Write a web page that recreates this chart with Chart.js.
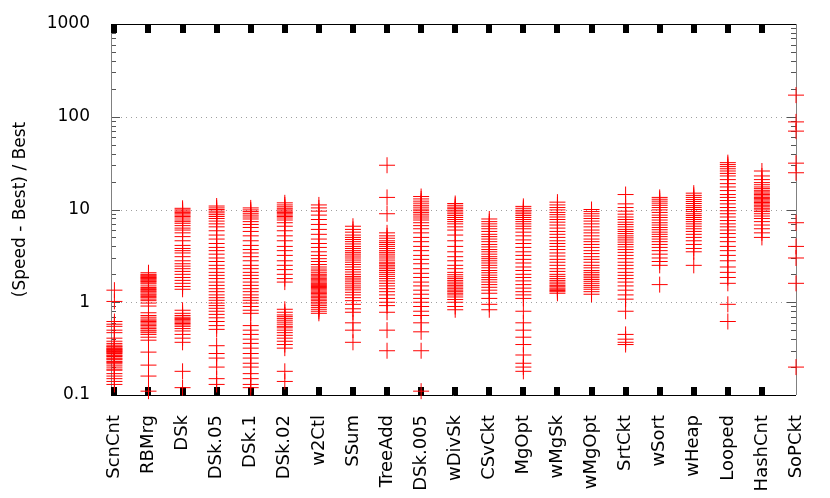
<!DOCTYPE html>
<html>
<head>
<meta charset="utf-8">
<script src="https://cdn.jsdelivr.net/npm/chart.js@4.4.1/dist/chart.umd.min.js"></script>
<style>
  html, body { margin: 0; padding: 0; background: #fff; }
  #wrap { width: 830px; height: 498px; }
</style>
</head>
<body>
<div id="wrap"><canvas id="speedChart" width="830" height="498"></canvas></div>
<script>
const categories = ['ScnCnt', 'RBMrg', 'DSk', 'DSk.05', 'DSk.1', 'DSk.02', 'w2Ctl', 'SSum', 'TreeAdd', 'DSk.005',
    'wDivSk', 'CSvCkt', 'MgOpt', 'wMgSk', 'wMgOpt', 'SrtCkt', 'wSort', 'wHeap', 'Looped', 'HashCnt', 'SoPCkt'];

const yTicks = [0.1, 1, 10, 100, 1000];
const yTickLabels = ['0.1', '1', '10', '100', '1000'];
const yTitle = '(Speed - Best) / Best';

// values, one list per benchmark
const scnCnt = [1.35, 1.02, 0.62, 0.58, 0.55, 0.5, 0.47, 0.41, 0.38, 0.36, 0.345, 0.335, 0.33, 0.32, 0.315, 0.31,
    0.305, 0.3, 0.295, 0.29, 0.285, 0.28, 0.27, 0.265, 0.26, 0.25, 0.245, 0.24, 0.23, 0.225, 0.22, 0.21, 0.2, 0.19,
    0.185, 0.17, 0.16, 0.15, 0.14, 0.13];
const rbMrg = [2.08, 2.0, 1.96, 1.92, 1.88, 1.85, 1.81, 1.78, 1.74, 1.7, 1.67, 1.62, 1.58, 1.5, 1.44, 1.4, 1.37,
    1.33, 1.3, 1.26, 1.22, 1.19, 1.15, 1.12, 1.08, 1.04, 0.98, 0.91, 0.77, 0.72, 0.69, 0.66, 0.64, 0.62, 0.6, 0.58,
    0.56, 0.54, 0.52, 0.5, 0.49, 0.47, 0.45, 0.42, 0.39, 0.29, 0.21, 0.16, 0.11];
const dSk = [10.3, 9.9, 9.6, 9.3, 9.0, 8.7, 8.4, 8.1, 7.7, 7.4, 7.1, 6.7, 6.3, 6.0, 5.6, 5.1, 4.6, 4.1, 3.8, 3.6,
    3.4, 3.1, 2.8, 2.6, 2.45, 2.3, 2.15, 2.0, 1.85, 1.72, 1.6, 1.48, 1.38, 0.82, 0.76, 0.72, 0.69, 0.67, 0.65, 0.63,
    0.61, 0.59, 0.57, 0.55, 0.52, 0.49, 0.45, 0.41, 0.37, 0.18, 0.12];
const dSk05 = [10.9, 10.4, 10, 9.6, 9.2, 8.8, 8.4, 8.0, 7.5, 7.0, 6.5, 5.9, 5.3, 4.8, 4.3, 3.9, 3.6, 3.3, 3.0,
    2.75, 2.5, 2.3, 2.1, 1.95, 1.8, 1.65, 1.52, 1.4, 1.3, 1.2, 1.12, 1.05, 0.98, 0.92, 0.86, 0.8, 0.74, 0.68, 0.62,
    0.56, 0.51, 0.34, 0.28, 0.25, 0.2, 0.15, 0.13];
const dSk1 = [10.4, 9.9, 9.5, 9.1, 8.7, 8.3, 7.9, 7.4, 6.9, 6.4, 5.8, 5.2, 4.6, 4.1, 3.7, 3.4, 3.1, 2.8, 2.5, 2.3,
    2.1, 1.95, 1.8, 1.65, 1.52, 1.4, 1.3, 1.2, 1.12, 1.05, 0.98, 0.9, 0.82, 0.76, 0.56, 0.5, 0.45, 0.4, 0.36, 0.32,
    0.28, 0.25, 0.22, 0.2, 0.17, 0.15, 0.13, 0.12];
const dSk02 = [11.8, 11.2, 10.7, 10.3, 9.9, 9.6, 9.3, 9.0, 8.7, 8.4, 8.1, 7.7, 7.2, 6.6, 5.9, 5.2, 4.6, 4.0, 3.6,
    3.2, 2.8, 2.5, 2.25, 2.0, 1.8, 1.65, 0.84, 0.78, 0.73, 0.7, 0.67, 0.64, 0.61, 0.58, 0.55, 0.53, 0.5, 0.47, 0.44,
    0.41, 0.38, 0.35, 0.32, 0.18, 0.14];
const w2Ctl = [11.2, 10.4, 9.6, 8.7, 7.8, 6.9, 6.1, 5.4, 4.8, 4.3, 3.9, 3.5, 3.2, 2.95, 2.75, 2.55, 2.4, 2.28,
    2.18, 2.08, 2.0, 1.93, 1.87, 1.81, 1.75, 1.7, 1.65, 1.6, 1.56, 1.52, 1.48, 1.44, 1.4, 1.36, 1.32, 1.28, 1.24,
    1.2, 1.16, 1.12, 1.08, 1.04, 1.0, 0.96, 0.92, 0.88, 0.84, 0.8, 0.76];
const sSum = [6.6, 6.1, 5.7, 5.3, 5.0, 4.75, 4.5, 4.25, 4.0, 3.8, 3.6, 3.45, 3.3, 3.15, 3.0, 2.85, 2.7, 2.55, 2.4,
    2.25, 2.12, 2.0, 1.9, 1.82, 1.74, 1.66, 1.58, 1.5, 1.43, 1.36, 1.28, 1.2, 1.12, 1.04, 0.95, 0.85, 0.78, 0.6,
    0.5, 0.37];
const treeAdd = [30, 13.5, 9.0, 5.6, 5.2, 4.9, 4.6, 4.4, 4.2, 4.0, 3.8, 3.6, 3.45, 3.3, 3.15, 3.0, 2.85, 2.7, 2.6,
    2.5, 2.4, 2.3, 2.2, 2.1, 2.0, 1.9, 1.8, 1.7, 1.6, 1.5, 1.4, 1.3, 1.2, 1.1, 1.0, 0.92, 0.78, 0.5, 0.3];
const dSk005 = [13.8, 13, 12.3, 11.7, 11.1, 10.6, 10.1, 9.7, 9.3, 8.9, 8.5, 8.1, 7.7, 7.2, 6.7, 6.2, 5.6, 5.0, 4.5,
    4.0, 3.6, 3.2, 2.9, 2.6, 2.3, 2.05, 1.85, 1.65, 1.5, 1.35, 1.22, 1.1, 1.0, 0.9, 0.8, 0.72, 0.6, 0.48, 0.3, 0.11];
const wDivSk = [11.6, 11.1, 10.6, 10.2, 9.8, 9.4, 9.0, 8.6, 8.2, 7.8, 7.4, 7.0, 6.5, 6.0, 5.3, 4.6, 4.0, 3.5, 3.1,
    2.8, 2.5, 2.3, 2.1, 1.98, 1.88, 1.8, 1.72, 1.65, 1.58, 1.52, 1.46, 1.4, 1.35, 1.3, 1.25, 1.2, 1.14, 1.07, 1.0,
    0.9, 0.83];
const cSvCkt = [7.9, 7.4, 7.0, 6.6, 6.2, 5.8, 5.4, 5.1, 4.8, 4.5, 4.2, 3.95, 3.7, 3.5, 3.3, 3.1, 2.95, 2.8, 2.65,
    2.5, 2.35, 2.2, 2.08, 1.96, 1.85, 1.75, 1.65, 1.55, 1.45, 1.35, 1.25, 1.1, 0.95, 0.83];
const mgOpt = [10.8, 10.3, 9.8, 9.4, 9.0, 8.6, 8.2, 7.8, 7.4, 7.0, 6.6, 6.2, 5.7, 5.2, 4.7, 4.3, 3.9, 3.5, 3.2,
    2.9, 2.65, 2.4, 2.2, 2.0, 1.85, 1.7, 1.55, 1.42, 1.3, 1.2, 1.1, 0.8, 0.6, 0.5, 0.42, 0.35, 0.27, 0.22, 0.2, 0.18];
const wMgSk = [12, 11.2, 10.5, 9.9, 9.3, 8.8, 8.3, 7.8, 7.3, 6.8, 6.3, 5.8, 5.4, 5.0, 4.6, 4.3, 4.0, 3.7, 3.4,
    3.15, 2.9, 2.7, 2.5, 2.3, 2.15, 2.0, 1.9, 1.8, 1.72, 1.65, 1.58, 1.52, 1.47, 1.42, 1.38, 1.34, 1.3, 1.25];
const wMgOpt = [10, 9.5, 9.0, 8.5, 8.0, 7.5, 7.0, 6.5, 6.0, 5.6, 5.2, 4.8, 4.5, 4.2, 3.9, 3.6, 3.35, 3.1, 2.9,
    2.7, 2.5, 2.35, 2.2, 2.1, 2.0, 1.92, 1.84, 1.76, 1.68, 1.6, 1.52, 1.45, 1.38, 1.3, 1.22];
const srtCkt = [14.5, 11.5, 10.5, 9.6, 8.9, 8.3, 7.8, 7.3, 6.9, 6.5, 6.1, 5.8, 5.5, 5.2, 4.95, 4.7, 4.45, 4.2,
    3.95, 3.7, 3.45, 3.2, 2.95, 2.7, 2.5, 2.3, 2.1, 1.95, 1.8, 1.65, 1.5, 1.35, 1.2, 1.08, 0.8, 0.45, 0.4, 0.37, 0.35];
const wSort = [13.5, 12.9, 12.3, 11.7, 11.1, 10.5, 9.9, 9.3, 8.7, 8.2, 7.7, 7.2, 6.8, 6.4, 6.05, 5.7, 5.4, 5.1,
    4.8, 4.5, 4.2, 3.9, 3.6, 3.3, 3.0, 2.75, 2.5, 1.55];
const wHeap = [15, 14.2, 13.5, 12.8, 12.2, 11.6, 11.0, 10.5, 10.0, 9.5, 9.0, 8.6, 8.2, 7.8, 7.4, 7.0, 6.6, 6.2,
    5.8, 5.4, 5.0, 4.6, 4.2, 3.8, 3.5, 2.5];
const looped = [32, 30.5, 29, 27.5, 26, 24.5, 23, 21, 19, 17.5, 16, 14.5, 13.5, 12.5, 11.5, 10.5, 9.7, 9, 8.3,
    7.6, 7.0, 6.5, 6.0, 5.5, 5.0, 4.5, 4.0, 3.6, 3.2, 2.8, 2.4, 2.1, 1.85, 1.6, 0.95, 0.62];
const hashCnt = [26, 23, 21, 19.5, 18.5, 17.5, 16.8, 16.1, 15.5, 15, 14.5, 14, 13.5, 13.1, 12.7, 12.3, 11.9, 11.5,
    11.1, 10.7, 10.3, 9.9, 9.5, 9.0, 8.5, 8.0, 7.4, 6.8, 6.2, 5.6, 5.0];
const soPCkt = [171, 88, 70, 31.6, 24.9, 7.2, 4.0, 3.0, 1.6, 0.2];

const seriesValues = [scnCnt, rbMrg, dSk, dSk05, dSk1, dSk02, w2Ctl, sSum, treeAdd, dSk005,
    wDivSk, cSvCkt, mgOpt, wMgSk, wMgOpt, srtCkt, wSort, wHeap, looped, hashCnt, soPCkt];

const points = [];
seriesValues.forEach((vals, i) => {
    vals.forEach(v => points.push({ x: i, y: v }));
});

const fontFamily = '"DejaVu Sans", sans-serif';

// gnuplot-like frame: dotted grid, minor ticks, fat x ticks
const framePlugin = {
    id: 'frame',
    beforeDatasetsDraw(chart) {
        const { ctx, chartArea: a, scales: { x, y } } = chart;
        ctx.save();

        ctx.strokeStyle = '#a0a0a0';
        ctx.lineWidth = 1;
        ctx.setLineDash([1, 4]);
        [1, 10, 100].forEach(v => {
            const py = Math.round(y.getPixelForValue(v)) + 0.5;
            ctx.beginPath();
            ctx.moveTo(a.left, py);
            ctx.lineTo(a.right, py);
            ctx.stroke();
        });
        ctx.setLineDash([]);

        ctx.strokeStyle = '#555';
        [0.1, 1, 10, 100].forEach(d => {
            for (let k = 1; k <= 9; k++) {
                if (d * k >= 1000 || d * k <= 0.1) continue;
                const len = k === 1 ? 9 : 5;
                const py = Math.round(y.getPixelForValue(d * k)) + 0.5;
                ctx.beginPath();
                ctx.moveTo(a.left, py);
                ctx.lineTo(a.left + len, py);
                ctx.moveTo(a.right, py);
                ctx.lineTo(a.right - len, py);
                ctx.stroke();
            }
        });

        ctx.strokeStyle = '#000';
        ctx.beginPath();
        ctx.moveTo(a.left, Math.round(a.top) + 0.5);
        ctx.lineTo(a.right, Math.round(a.top) + 0.5);
        ctx.moveTo(a.left, Math.round(a.bottom) + 0.5);
        ctx.lineTo(a.right, Math.round(a.bottom) + 0.5);
        ctx.stroke();

        ctx.strokeStyle = '#808080';
        ctx.beginPath();
        ctx.moveTo(Math.round(a.left) + 0.5, a.top);
        ctx.lineTo(Math.round(a.left) + 0.5, a.bottom);
        ctx.moveTo(Math.round(a.right) + 0.5, a.top);
        ctx.lineTo(Math.round(a.right) + 0.5, a.bottom);
        ctx.stroke();

        ctx.fillStyle = '#000';
        categories.forEach((c, i) => {
            if (i === categories.length - 1) return;
            const px = Math.round(x.getPixelForValue(i));
            ctx.fillRect(px - 3, a.top, 6, 9);
            ctx.fillRect(px - 3, a.bottom - 8, 6, 8);
        });
        ctx.restore();
    }
};

const ctx = document.getElementById('speedChart').getContext('2d');
new Chart(ctx, {
    type: 'scatter',
    data: {
        datasets: [{
            data: points,
            clip: false,
            pointStyle: 'cross',
            pointRadius: 8,
            pointHoverRadius: 8,
            pointBorderWidth: 1,
            borderColor: '#ff0000',
            backgroundColor: '#ff0000'
        }]
    },
    options: {
        responsive: false,
        animation: false,
        events: [],
        layout: { padding: { top: 24, right: 34, left: 0, bottom: 0 } },
        plugins: {
            legend: { display: false },
            tooltip: { enabled: false }
        },
        scales: {
            x: {
                type: 'linear',
                min: -0.1,
                max: 20,
                afterBuildTicks: s => { s.ticks = categories.map((c, i) => ({ value: i })); },
                afterFit: s => { s.height = 498 - 395; },
                grid: { display: false },
                border: { display: false },
                ticks: {
                    autoSkip: false,
                    minRotation: 90,
                    maxRotation: 90,
                    padding: 12,
                    color: '#000',
                    font: { family: fontFamily, size: 18 },
                    callback: v => categories[v]
                }
            },
            y: {
                type: 'logarithmic',
                min: 0.1,
                max: 1000,
                afterBuildTicks: s => { s.ticks = yTicks.map(v => ({ value: v })); },
                afterFit: s => { s.width = 111; },
                grid: { display: false },
                border: { display: false },
                ticks: {
                    padding: 13,
                    color: '#000',
                    font: { family: fontFamily, size: 17 },
                    callback: v => yTickLabels[yTicks.indexOf(v)]
                },
                title: {
                    display: true,
                    text: yTitle,
                    color: '#000',
                    padding: { top: 10, bottom: 0 },
                    font: { family: fontFamily, size: 17 }
                }
            }
        }
    },
    plugins: [framePlugin]
});
</script>
</body>
</html>
